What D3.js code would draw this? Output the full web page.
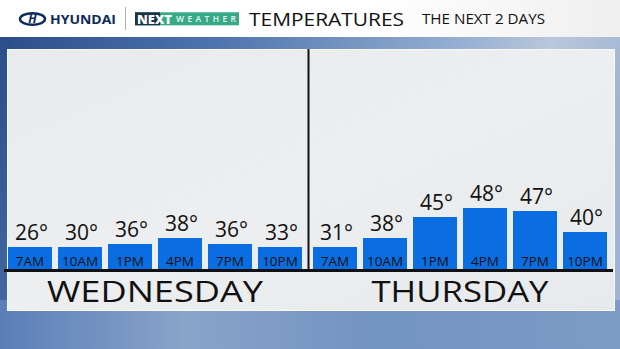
<!DOCTYPE html>
<html lang="en">
<head>
<meta charset="utf-8">
<title>Temperatures - the next 2 days</title>
<script src="https://cdn.jsdelivr.net/npm/d3@7"></script>
<style>
  body { margin: 0; overflow: hidden; }
  text { font-family: "Open Sans", sans-serif; }
</style>
</head>
<body>
<script>
// chart data
var days = ["WEDNESDAY", "THURSDAY"];
var times = ["7AM", "10AM", "1PM", "4PM", "7PM", "10PM"];
var wednesday = [26, 30, 36, 38, 36, 33];
var thursday = [31, 38, 45, 48, 47, 40];
var temps = [wednesday, thursday];

var w = 620, h = 349;
var baseY = 269;

var svg = d3.select("body").append("svg")
    .attr("width", w)
    .attr("height", h);

var defs = svg.append("defs");

// sky behind the panel
var sky = defs.append("linearGradient").attr("id", "sky")
    .attr("x1", "0").attr("y1", "0").attr("x2", "1").attr("y2", "0.3");
sky.append("stop").attr("offset", "0").attr("stop-color", "#274a84");
sky.append("stop").attr("offset", "0.35").attr("stop-color", "#4d74ad");
sky.append("stop").attr("offset", "0.7").attr("stop-color", "#93acd0");
sky.append("stop").attr("offset", "0.85").attr("stop-color", "#b8c7da");
sky.append("stop").attr("offset", "1").attr("stop-color", "#9fb4d2");

var skyLow = defs.append("linearGradient").attr("id", "skyLow")
    .attr("x1", "0").attr("y1", "0").attr("x2", "1").attr("y2", "0");
skyLow.append("stop").attr("offset", "0").attr("stop-color", "#5a7fb8");
skyLow.append("stop").attr("offset", "0.3").attr("stop-color", "#8aa3c9");
skyLow.append("stop").attr("offset", "0.6").attr("stop-color", "#7393c3");
skyLow.append("stop").attr("offset", "1").attr("stop-color", "#7e9bc6");

var panel = defs.append("linearGradient").attr("id", "panel")
    .attr("x1", "0").attr("y1", "0").attr("x2", "1").attr("y2", "1");
panel.append("stop").attr("offset", "0").attr("stop-color", "#e8eaeb");
panel.append("stop").attr("offset", "0.5").attr("stop-color", "#eceeef");
panel.append("stop").attr("offset", "1").attr("stop-color", "#e7eaec");

var head = defs.append("linearGradient").attr("id", "head")
    .attr("x1", "0").attr("y1", "0").attr("x2", "1").attr("y2", "0");
head.append("stop").attr("offset", "0").attr("stop-color", "#ffffff");
head.append("stop").attr("offset", "0.6").attr("stop-color", "#ffffff");
head.append("stop").attr("offset", "1").attr("stop-color", "#efefef");

svg.append("rect").attr("x", 0).attr("y", 0).attr("width", w).attr("height", h)
    .attr("fill", "url(#sky)");
svg.append("rect").attr("x", 0).attr("y", 300).attr("width", w).attr("height", 49)
    .attr("fill", "url(#skyLow)");

// header band
svg.append("rect").attr("x", 0).attr("y", 0).attr("width", w).attr("height", 37)
    .attr("fill", "url(#head)");

var logo = svg.append("g");
logo.append("ellipse").attr("cx", 32.5).attr("cy", 19).attr("rx", 12.5).attr("ry", 5.8)
    .attr("fill", "none").attr("stroke", "#0c2a5c").attr("stroke-width", 2.4);
logo.append("text").attr("x", 32.5).attr("y", 23.2).attr("text-anchor", "middle")
    .attr("font-size", 12).attr("font-weight", 700).attr("font-style", "italic")
    .attr("fill", "#0c2a5c").text("H");
logo.append("text").attr("x", 50).attr("y", 23.7)
    .attr("font-size", 12.5).attr("font-weight", 700)
    .attr("textLength", 66).attr("lengthAdjust", "spacingAndGlyphs")
    .attr("fill", "#0c2a5c").text("HYUNDAI");
logo.append("line").attr("x1", 125.5).attr("x2", 125.5).attr("y1", 7).attr("y2", 30)
    .attr("stroke", "#b0b0b0").attr("stroke-width", 1);

logo.append("rect").attr("x", 135).attr("y", 12.3).attr("width", 104).attr("height", 13)
    .attr("fill", "#36a986");
logo.append("rect").attr("x", 135).attr("y", 12.3).attr("width", 25).attr("height", 13)
    .attr("fill", "#1c3346");
logo.append("text").attr("x", 137).attr("y", 23.6)
    .attr("font-size", 12.5).attr("font-weight", 800)
    .attr("textLength", 35).attr("lengthAdjust", "spacingAndGlyphs")
    .attr("fill", "#ffffff").text("NEXT");
logo.append("text").attr("x", 176).attr("y", 22.3)
    .attr("font-size", 8.5).attr("font-weight", 600)
    .attr("textLength", 60).attr("lengthAdjust", "spacing")
    .attr("fill", "#eaf6f1").text("WEATHER");

svg.append("text").attr("x", 249).attr("y", 25.7)
    .attr("font-size", 19)
    .attr("textLength", 155).attr("lengthAdjust", "spacingAndGlyphs")
    .attr("fill", "#111").text("TEMPERATURES");
svg.append("text").attr("x", 422).attr("y", 24.3)
    .attr("font-size", 14.5)
    .attr("textLength", 123).attr("lengthAdjust", "spacingAndGlyphs")
    .attr("fill", "#111").text("THE NEXT 2 DAYS");

// light panel
svg.append("rect").attr("x", 7.5).attr("y", 49.5).attr("width", 607).attr("height", 261)
    .attr("fill", "url(#panel)").attr("stroke", "#f6f8f9").attr("stroke-width", 1);

// scales
var dayX = d3.scaleBand().domain(days).range([5, 615]);
var timeX = d3.scaleBand().domain(times).range([0, 300])
    .paddingInner(0.12).paddingOuter(0.06);
var y = d3.scaleLinear().domain([20, 50]).range([292, 202]);
var minTop = baseY - 22;
function barTop(t) { return Math.min(y(t), minTop); }

// divider between the days
svg.append("line")
    .attr("x1", dayX(days[1]) - 1.5).attr("x2", dayX(days[1]) - 1.5)
    .attr("y1", 49).attr("y2", baseY)
    .attr("stroke", "#111").attr("stroke-width", 2);

var dayG = svg.selectAll("g.day")
    .data(days)
    .enter()
    .append("g")
    .attr("class", "day")
    .attr("transform", function(d) { return "translate(" + dayX(d) + ",0)"; });

dayG.each(function(day, di) {
    var g = d3.select(this);
    var rows = temps[di].map(function(t, i) { return { t: t, time: times[i] }; });

    g.selectAll("rect.bar")
        .data(rows)
        .enter()
        .append("rect")
        .attr("class", "bar")
        .attr("x", function(d) { return timeX(d.time); })
        .attr("y", function(d) { return barTop(d.t); })
        .attr("width", timeX.bandwidth())
        .attr("height", function(d) { return baseY - barTop(d.t); })
        .attr("fill", "#0a6ee2");

    g.selectAll("text.temp")
        .data(rows)
        .enter()
        .append("text")
        .attr("class", "temp")
        .attr("x", function(d) { return timeX(d.time) + timeX.bandwidth() / 2 + 1.5; })
        .attr("y", function(d) { return barTop(d.t) - 7; })
        .attr("text-anchor", "middle")
        .attr("font-size", 21)
        .attr("font-weight", 500)
        .attr("fill", "#111")
        .text(function(d) { return d.t + "°"; });

    g.selectAll("text.time")
        .data(rows)
        .enter()
        .append("text")
        .attr("class", "time")
        .attr("x", function(d) { return timeX(d.time) + timeX.bandwidth() / 2; })
        .attr("y", baseY - 3.5)
        .attr("text-anchor", "middle")
        .attr("font-size", 13.5)
        .attr("font-weight", 500)
        .attr("fill", "#111")
        .text(function(d) { return d.time; });

    g.append("text")
        .attr("x", 150)
        .attr("y", 301.7)
        .attr("text-anchor", "middle")
        .attr("font-size", 30)
        .attr("font-weight", 500)
        .attr("textLength", di === 0 ? 216 : 177)
        .attr("lengthAdjust", "spacingAndGlyphs")
        .attr("fill", "#111")
        .text(day);
});

// baseline
svg.append("line")
    .attr("x1", 4).attr("x2", 613)
    .attr("y1", baseY + 1.5).attr("y2", baseY + 1.5)
    .attr("stroke", "#111").attr("stroke-width", 3);
</script>
</body>
</html>
